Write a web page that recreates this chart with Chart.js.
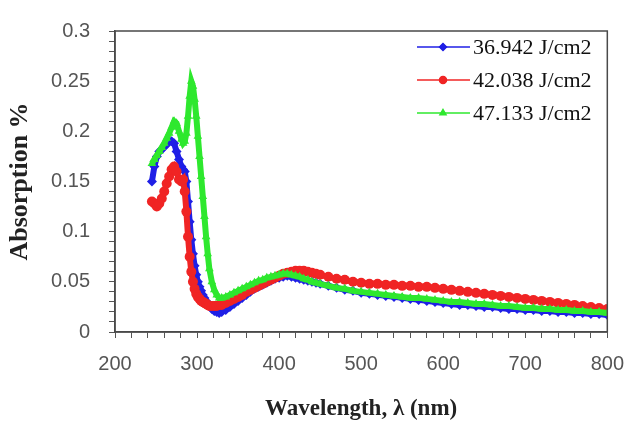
<!DOCTYPE html>
<html>
<head>
<meta charset="utf-8">
<title>Absorption vs wavelength</title>
<script src="https://cdn.jsdelivr.net/npm/chart.js@4.4.1/dist/chart.umd.min.js"></script>
<style>
  html, body { margin: 0; padding: 0; background: #fff; }
  #wrap { width: 638px; height: 430px; }
</style>
</head>
<body>
<div id="wrap"><canvas id="chart" width="638" height="430"></canvas></div>
<script>
// wavelength grid (nm), shared by the three series
const wavelength = [
  245, 248, 251, 254, 257, 260, 263, 266, 269, 272, 275, 278, 281,
  283, 285, 287, 289, 291, 293, 295, 297, 299, 301, 303, 305, 307, 309, 311, 313, 315,
  318, 321, 324, 327, 330,
  335, 340, 345, 350, 355, 360, 365, 370, 375, 380, 385, 390, 395, 400, 405, 410,
  415, 420, 425, 430, 435, 440, 445, 450,
  460, 470, 480, 490, 500, 510, 520, 530, 540, 550, 560, 570, 580, 590, 600,
  610, 620, 630, 640, 650, 660, 670, 680, 690, 700, 710, 720, 730, 740, 750,
  760, 770, 780, 790, 800
];

const abs36942 = [
  0.150, 0.165, 0.175, 0.180, 0.182, 0.185, 0.187, 0.190, 0.190, 0.188, 0.180, 0.172, 0.165,
  0.162, 0.160, 0.150, 0.130, 0.110, 0.092, 0.078, 0.066, 0.057, 0.050, 0.045, 0.041, 0.037, 0.034, 0.031, 0.028, 0.026,
  0.023, 0.021, 0.020, 0.019, 0.020,
  0.022, 0.025, 0.028, 0.031, 0.034, 0.037, 0.040, 0.043, 0.045, 0.047, 0.049, 0.051, 0.053, 0.054, 0.055, 0.056,
  0.055, 0.054, 0.053, 0.052, 0.051, 0.050, 0.049, 0.048,
  0.046, 0.044, 0.042, 0.041, 0.039, 0.038, 0.037, 0.036, 0.035, 0.034, 0.033, 0.032, 0.031, 0.030, 0.029,
  0.028, 0.027, 0.027, 0.026, 0.025, 0.025, 0.024, 0.023, 0.023, 0.022, 0.022, 0.021, 0.021, 0.020, 0.020,
  0.019, 0.019, 0.018, 0.018, 0.017
];

const abs42038 = [
  0.130, 0.128, 0.125, 0.128, 0.133, 0.140, 0.148, 0.155, 0.162, 0.165, 0.160, 0.152, 0.150,
  0.152, 0.140, 0.120, 0.095, 0.075, 0.060, 0.050, 0.043, 0.038, 0.035, 0.033, 0.031, 0.030, 0.029, 0.028, 0.027, 0.026,
  0.026, 0.026, 0.026, 0.027, 0.027,
  0.029, 0.031, 0.033, 0.035, 0.037, 0.040, 0.042, 0.044, 0.046, 0.048, 0.050, 0.052, 0.054, 0.056, 0.058, 0.059,
  0.060, 0.061, 0.061, 0.061, 0.060, 0.059, 0.058, 0.057,
  0.055, 0.053, 0.052, 0.050, 0.049, 0.048, 0.048, 0.047, 0.047, 0.046, 0.046, 0.045, 0.045, 0.044, 0.043,
  0.042, 0.041, 0.040, 0.039, 0.038, 0.037, 0.036, 0.035, 0.034, 0.033, 0.032, 0.031, 0.030, 0.029, 0.028,
  0.027, 0.026, 0.025, 0.024, 0.023
];

const abs47133 = [
  0.168, 0.172, 0.176, 0.180, 0.184, 0.188, 0.193, 0.198, 0.204, 0.210, 0.208, 0.200, 0.192,
  0.188, 0.190, 0.198, 0.215, 0.235, 0.250, 0.245, 0.232, 0.215, 0.195, 0.175, 0.155, 0.135, 0.115, 0.095, 0.078, 0.063,
  0.050, 0.042, 0.037, 0.034, 0.034,
  0.035, 0.037, 0.039, 0.041, 0.043, 0.045, 0.047, 0.049, 0.051, 0.052, 0.054, 0.055, 0.056, 0.057, 0.058, 0.058,
  0.057, 0.056, 0.055, 0.053, 0.052, 0.050, 0.049, 0.048,
  0.046, 0.044, 0.043, 0.041, 0.040, 0.039, 0.038, 0.037, 0.036, 0.035, 0.034, 0.034, 0.033, 0.032, 0.031,
  0.030, 0.030, 0.029, 0.028, 0.028, 0.027, 0.026, 0.026, 0.025, 0.024, 0.024, 0.023, 0.023, 0.022, 0.022,
  0.021, 0.021, 0.020, 0.020, 0.019
];

const seriesLabels = ['36.942 J/cm2', '42.038 J/cm2', '47.133 J/cm2'];
const seriesColors = ['#1f1fe6', '#f02424', '#2ee82e'];
const seriesMarkers = ['rectRot', 'circle', 'triangle'];
const seriesValues = [abs36942, abs42038, abs47133];

const toPoints = vals => wavelength.map((w, i) => ({ x: w, y: vals[i] }));

// legend drawn as line + marker, like the original
const lineLegend = {
  id: 'lineLegend',
  afterDatasetsDraw(chart) {
    const ctx = chart.ctx;
    ctx.save();
    chart.data.datasets.forEach((ds, i) => {
      const y = 47 + i * 33;
      ctx.strokeStyle = ds.borderColor;
      ctx.lineWidth = 1.5;
      ctx.beginPath();
      ctx.moveTo(417, y);
      ctx.lineTo(470, y);
      ctx.stroke();
      Chart.helpers.drawPoint(ctx, {
        pointStyle: ds.pointStyle, radius: 3.5, rotation: 0, borderWidth: 1
      }, 443, y);
      ctx.fillStyle = ds.backgroundColor;
      ctx.fill();
      ctx.fillStyle = '#111';
      ctx.font = '22px "Liberation Serif", serif';
      ctx.textBaseline = 'middle';
      ctx.textAlign = 'left';
      ctx.fillText(ds.label, 473, y + 1);
    });
    ctx.restore();
  }
};

// frame round the plot area
const plotFrame = {
  id: 'plotFrame',
  afterDraw(chart) {
    const a = chart.chartArea;
    const ctx = chart.ctx;
    ctx.save();
    ctx.strokeStyle = '#4a4a4a';
    ctx.lineWidth = 1.5;
    ctx.strokeRect(a.left, a.top, a.right - a.left, a.bottom - a.top);
    ctx.restore();
  }
};

new Chart(document.getElementById('chart'), {
  type: 'scatter',
  data: {
    datasets: seriesValues.map((vals, i) => ({
      label: seriesLabels[i],
      data: toPoints(vals),
      showLine: true,
      borderColor: seriesColors[i],
      backgroundColor: seriesColors[i],
      borderWidth: 6,
      pointStyle: seriesMarkers[i],
      pointRadius: 5,
      pointBorderWidth: 0,
      order: 3 - i
    }))
  },
  options: {
    responsive: false,
    animation: false,
    layout: { padding: { left: 0, right: 18, top: 20, bottom: 0 } },
    plugins: { legend: { display: false }, tooltip: { enabled: false } },
    scales: {
      x: {
        type: 'linear',
        min: 200,
        max: 800,
        afterFit: s => { s.height = 98; },
        grid: { drawOnChartArea: false, tickLength: 6, color: '#555', lineWidth: 1 },
        border: { color: '#4a4a4a', width: 1.5 },
        ticks: {
          stepSize: 20,
          autoSkip: false,
          maxRotation: 0,
          padding: 14,
          color: '#555',
          font: { family: '"Liberation Sans", sans-serif', size: 20 },
          callback: v => (v % 100 === 0 ? String(v) : '')
        },
        title: {
          display: true,
          text: 'Wavelength, λ (nm)',
          color: '#222',
          font: { family: '"Liberation Serif", serif', size: 23, weight: 'bold' },
          padding: { top: 0, bottom: 7 }
        }
      },
      y: {
        min: 0,
        max: 0.3,
        afterFit: s => { s.width = 115; },
        grid: { drawOnChartArea: false, tickLength: 6, color: '#555', lineWidth: 1 },
        border: { color: '#4a4a4a', width: 1.5 },
        ticks: {
          stepSize: 0.01,
          autoSkip: false,
          padding: 19,
          color: '#555',
          font: { family: '"Liberation Sans", sans-serif', size: 20 },
          callback: v => {
            const c = Math.round(v * 100);
            return c % 5 === 0 ? String(c / 100) : '';
          }
        },
        title: {
          display: true,
          text: 'Absorption %',
          color: '#222',
          font: { family: '"Liberation Serif", serif', size: 26, weight: 'bold' },
          padding: { top: 5, bottom: 0 }
        }
      }
    }
  },
  plugins: [plotFrame, lineLegend]
});
</script>
</body>
</html>
